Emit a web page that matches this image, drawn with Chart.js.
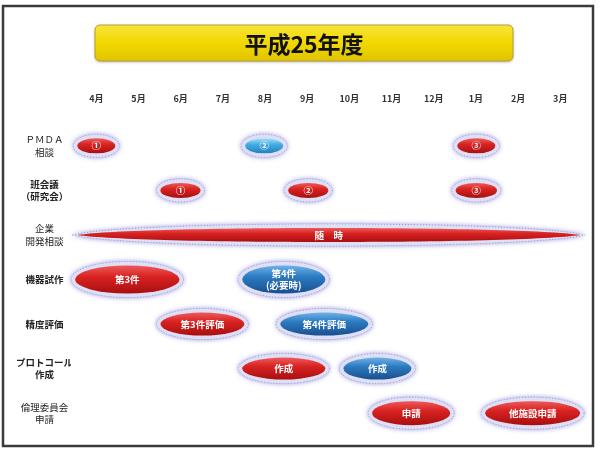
<!DOCTYPE html>
<html>
<head>
<meta charset="utf-8">
<script src="https://cdn.jsdelivr.net/npm/chart.js@4"></script>
<style>
  html, body { margin: 0; padding: 0; background: #fff; }
  #wrap { width: 600px; height: 449px; }
</style>
</head>
<body>
<div id="wrap"><canvas id="schedule"></canvas></div>
<script>
// months of the fiscal year (x axis)
const months = ['4月', '5月', '6月', '7月', '8月', '9月', '10月', '11月', '12月', '1月', '2月', '3月'];

// row labels (y axis)
const rows = [
  ['ＰＭＤＡ', '相談'],
  ['班会議', '（研究会）'],
  ['企業', '開発相談'],
  ['機器試作'],
  ['精度評価'],
  ['プロトコール', '作成'],
  ['倫理委員会', '申請']
];

// first item in each row (start / end in months from April)
const firstStart = [-0.45, 1.52, -0.45, -0.5, 1.52, 3.46, 6.54];
const firstEnd   = [0.45, 2.47, 11.47, 1.97, 3.51, 5.43, 8.39];
const firstText  = ['①', '①', '随　時', '第3件', '第3件評価', '作成', '申請'];

// second item in each row
const secondStart = [3.53, 4.55, null, 3.46, 4.36, 5.86, 9.22];
const secondEnd   = [4.43, 5.5, null, 5.43, 6.45, 7.47, 11.47];
const secondText  = ['②', '②', null, ['第4件', '(必要時)'], '第4件評価', '作成', '他施設申請'];

// third item in each row
const thirdStart = [8.56, 8.52, null, null, null, null, null];
const thirdEnd   = [9.46, 9.5, null, null, null, null, null];
const thirdText  = ['③', '③', null, null, null, null, null];

// colours per item, style only
const firstColor  = ['red', 'red', 'red', 'red', 'red', 'red', 'red'];
const secondColor = ['cyan', 'red', null, 'blue', 'blue', 'blue', 'red'];
const thirdColor  = ['red', 'red', null, null, null, null, null];

const palette = {
  red:  ['#ee5a5a', '#d92222', '#a80f0f'],
  blue: ['#6fb2e6', '#2c7bc2', '#1a4f8f'],
  cyan: ['#a6e0fa', '#45ade2', '#2280c0']
};
const rowHeight = [15, 15, 14, 28, 23, 22, 24];

const jp = "'Noto Sans CJK JP', 'Noto Sans', sans-serif";

function pair(s, e) {
  return s.map((v, i) => (v == null ? null : [v, e[i]]));
}

const slots = [
  { data: pair(firstStart, firstEnd), text: firstText, color: firstColor },
  { data: pair(secondStart, secondEnd), text: secondText, color: secondColor },
  { data: pair(thirdStart, thirdEnd), text: thirdText, color: thirdColor }
];

// page frame + yellow title banner
const framePlugin = {
  id: 'frame',
  beforeDraw(chart) {
    const c = chart.ctx;
    c.save();
    c.fillStyle = '#fff';
    c.fillRect(0, 0, chart.width, chart.height);
    c.strokeStyle = '#3a3a3a';
    c.lineWidth = 2.5;
    c.strokeRect(3, 6, 590, 440);

    // banner
    c.shadowColor = 'rgba(0,0,0,0.35)';
    c.shadowBlur = 3;
    c.shadowOffsetY = 1;
    const g = c.createLinearGradient(0, 25, 0, 61);
    g.addColorStop(0, '#f8e43a');
    g.addColorStop(0.5, '#f2d800');
    g.addColorStop(1, '#e0c400');
    c.fillStyle = g;
    c.beginPath();
    c.roundRect(95, 25, 418, 36, 5);
    c.fill();
    c.shadowColor = 'transparent';
    c.strokeStyle = '#b8a030';
    c.lineWidth = 1;
    c.stroke();
    c.restore();
  }
};

function lens(c, x0, x1, cy, ry) {
  const L = x1 - x0;
  c.beginPath();
  c.moveTo(x0, cy);
  c.bezierCurveTo(x0 + 0.12 * L, cy - ry * 1.33, x1 - 0.12 * L, cy - ry * 1.33, x1, cy);
  c.bezierCurveTo(x1 - 0.12 * L, cy + ry * 1.33, x0 + 0.12 * L, cy + ry * 1.33, x0, cy);
  c.closePath();
}

// draw each floating bar as a glossy ellipse with a lavender halo
const ellipsePlugin = {
  id: 'ellipses',
  afterDatasetsDraw(chart) {
    const c = chart.ctx;
    chart.data.datasets.forEach((ds, di) => {
      const slot = slots[di];
      chart.getDatasetMeta(di).data.forEach((bar, i) => {
        if (ds.data[i] == null) return;
        const x0 = Math.min(bar.x, bar.base);
        const x1 = Math.max(bar.x, bar.base);
        const cx = (x0 + x1) / 2, cy = bar.y;
        const rx = (x1 - x0) / 2, ry = rowHeight[i] / 2;
        const isLens = i === 2;
        c.save();
        // halo
        c.shadowColor = 'rgba(120,120,215,0.9)';
        c.shadowBlur = 5;
        c.fillStyle = 'rgba(225,225,246,0.95)';
        if (isLens) lens(c, x0 - 5, x1 + 5, cy, ry + 4);
        else { c.beginPath(); c.ellipse(cx, cy, rx + 4, ry + 4, 0, 0, Math.PI * 2); }
        c.fill();
        c.shadowColor = 'transparent';
        c.setLineDash([1, 2]);
        c.strokeStyle = 'rgba(150,150,210,0.9)';
        c.lineWidth = 1;
        c.stroke();
        c.setLineDash([]);
        // body
        const p = palette[slot.color[i]];
        const g = c.createLinearGradient(0, cy - ry, 0, cy + ry);
        g.addColorStop(0, p[0]);
        g.addColorStop(0.4, p[1]);
        g.addColorStop(1, p[2]);
        c.fillStyle = g;
        if (isLens) lens(c, x0, x1, cy, ry);
        else { c.beginPath(); c.ellipse(cx, cy, rx, ry, 0, 0, Math.PI * 2); }
        c.fill();
        // label
        const t = slot.text[i];
        if (t) {
          const lines = Array.isArray(t) ? t : [t];
          c.fillStyle = '#fff';
          c.font = 'bold 9.5px ' + jp;
          c.textAlign = 'center';
          c.textBaseline = 'middle';
          lines.forEach((ln, k) => {
            c.fillText(ln, cx, cy + (k - (lines.length - 1) / 2) * 12);
          });
        }
        c.restore();
      });
    });
  }
};

new Chart(document.getElementById('schedule'), {
  type: 'bar',
  data: {
    labels: rows,
    datasets: slots.map((s) => ({
      data: s.data,
      backgroundColor: 'rgba(0,0,0,0)',
      borderWidth: 0,
      grouped: false,
      barPercentage: 0.5,
      categoryPercentage: 1
    }))
  },
  options: {
    indexAxis: 'y',
    responsive: true,
    maintainAspectRatio: false,
    animation: false,
    layout: { padding: { left: 14, right: 6, top: 30, bottom: 13.6 } },
    plugins: {
      legend: { display: false },
      tooltip: { enabled: false },
      title: {
        display: true,
        text: '平成25年度',
        color: '#111',
        font: { family: jp, size: 23, weight: 'bold' },
        padding: 0
      }
    },
    scales: {
      x: {
        type: 'linear',
        position: 'top',
        min: -0.6,
        max: 11.8,
        grid: { display: false, drawTicks: false },
        border: { display: false },
        afterBuildTicks: (s) => { s.ticks = months.map((m, i) => ({ value: i })); },
        ticks: {
          autoSkip: false,
          maxRotation: 0,
          padding: 20,
          color: '#333',
          font: { family: jp, size: 9, weight: 'bold' },
          callback: (v) => months[v]
        },
        afterFit: (s) => { s.height = 66; s.paddingLeft = 0; s.paddingRight = 0; }
      },
      y: {
        grid: { display: false, drawTicks: false },
        border: { display: false },
        ticks: {
          crossAlign: 'center',
          padding: -2,
          color: '#222',
          font: (ctx) => ({
            family: jp,
            size: 9.5,
            weight: [1, 3, 4, 5].includes(ctx.index) ? 'bold' : 'normal',
            lineHeight: 1.3
          })
        },
        afterFit: (s) => { s.width = 57; }
      }
    }
  },
  plugins: [framePlugin, ellipsePlugin]
});
</script>
</body>
</html>
